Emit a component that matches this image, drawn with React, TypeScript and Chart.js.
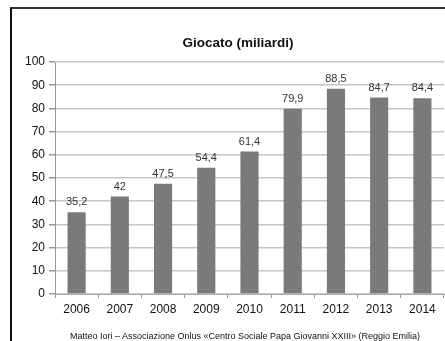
import React, { useEffect, useRef } from "react";
import { Chart, registerables } from "chart.js";

Chart.register(...registerables);

const categories = ["2006", "2007", "2008", "2009", "2010", "2011", "2012", "2013", "2014"];
const values = [35.2, 42, 47.5, 54.4, 61.4, 79.9, 88.5, 84.7, 84.4];
const yTicks = [0, 10, 20, 30, 40, 50, 60, 70, 80, 90, 100];
const title = "Giocato (miliardi)";
const footer = "Matteo Iori – Associazione Onlus «Centro Sociale Papa Giovanni XXIII» (Reggio Emilia)";

const FONT = "'Liberation Sans', Arial, sans-serif";

const dataLabelPlugin = {
  id: "dataLabels",
  afterDatasetsDraw(chart: any) {
    const ctx = chart.ctx;
    const meta = chart.getDatasetMeta(0);
    ctx.save();
    ctx.font = `11px ${FONT}`;
    ctx.fillStyle = "#333";
    ctx.textAlign = "center";
    ctx.textBaseline = "middle";
    meta.data.forEach((bar: any, i: number) => {
      const txt = String(values[i]).replace(".", ",");
      ctx.fillText(txt, bar.x, bar.y - 10);
    });
    ctx.restore();
  },
};

export default function App() {
  const ref = useRef<HTMLCanvasElement>(null);
  useEffect(() => {
    if (!ref.current) return;
    const chart = new Chart(ref.current, {
      type: "bar",
      data: {
        labels: categories,
        datasets: [
          {
            data: values,
            backgroundColor: "#7a7a7a",
            borderWidth: 0,
            categoryPercentage: 1,
            barPercentage: 0.42,
          },
        ],
      },
      options: {
        animation: false,
        responsive: false,
        maintainAspectRatio: false,
        layout: { padding: { left: 0, right: 1, top: 62, bottom: 0 } },
        plugins: { legend: { display: false }, title: { display: false }, tooltip: { enabled: false } },
        scales: {
          x: {
            afterFit: (s: any) => {
              s.height = 47;
            },
            grid: {
              display: true,
              drawOnChartArea: false,
              offset: true,
              tickLength: 4,
              color: "#999",
            },
            border: { color: "#aaa", width: 1 },
            ticks: {
              font: { family: FONT, size: 12 },
              color: "#111",
              padding: 4,
              maxRotation: 0,
            },
          },
          y: {
            min: 0,
            max: 100,
            afterFit: (s: any) => {
              s.width = 55;
            },
            afterBuildTicks: (s: any) => {
              s.ticks = yTicks.map((v) => ({ value: v }));
            },
            grid: {
              color: "#c6c6c6",
              lineWidth: 1.5,
              tickLength: 6,
              tickColor: "#999",
            },
            border: { color: "#999", width: 1 },
            ticks: {
              font: { family: FONT, size: 12 },
              color: "#111",
              padding: 4,
            },
          },
        },
      },
      plugins: [dataLabelPlugin],
    });
    return () => chart.destroy();
  }, []);

  return (
    <div
      style={{
        position: "fixed",
        left: 0,
        top: 0,
        width: 445,
        height: 341,
        background: "#fff",
        overflow: "hidden",
      }}
    >
      <div
        style={{
          position: "absolute",
          left: 10,
          top: 7,
          width: 440,
          height: 340,
          borderLeft: "2px solid #111",
          borderTop: "2px solid #333",
        }}
      />
      <canvas ref={ref} width={445} height={341} style={{ position: "absolute", left: 0, top: 0 }} />
      <div
        style={{
          position: "absolute",
          left: 0,
          width: 476,
          top: 35,
          textAlign: "center",
          font: `bold 13.5px ${FONT}`,
          color: "#111",
        }}
      >
        {title}
      </div>
      <div
        style={{
          position: "absolute",
          left: 0,
          width: 490,
          top: 331,
          textAlign: "center",
          font: `9px ${FONT}`,
          color: "#111",
          whiteSpace: "nowrap",
        }}
      >
        {footer}
      </div>
    </div>
  );
}
